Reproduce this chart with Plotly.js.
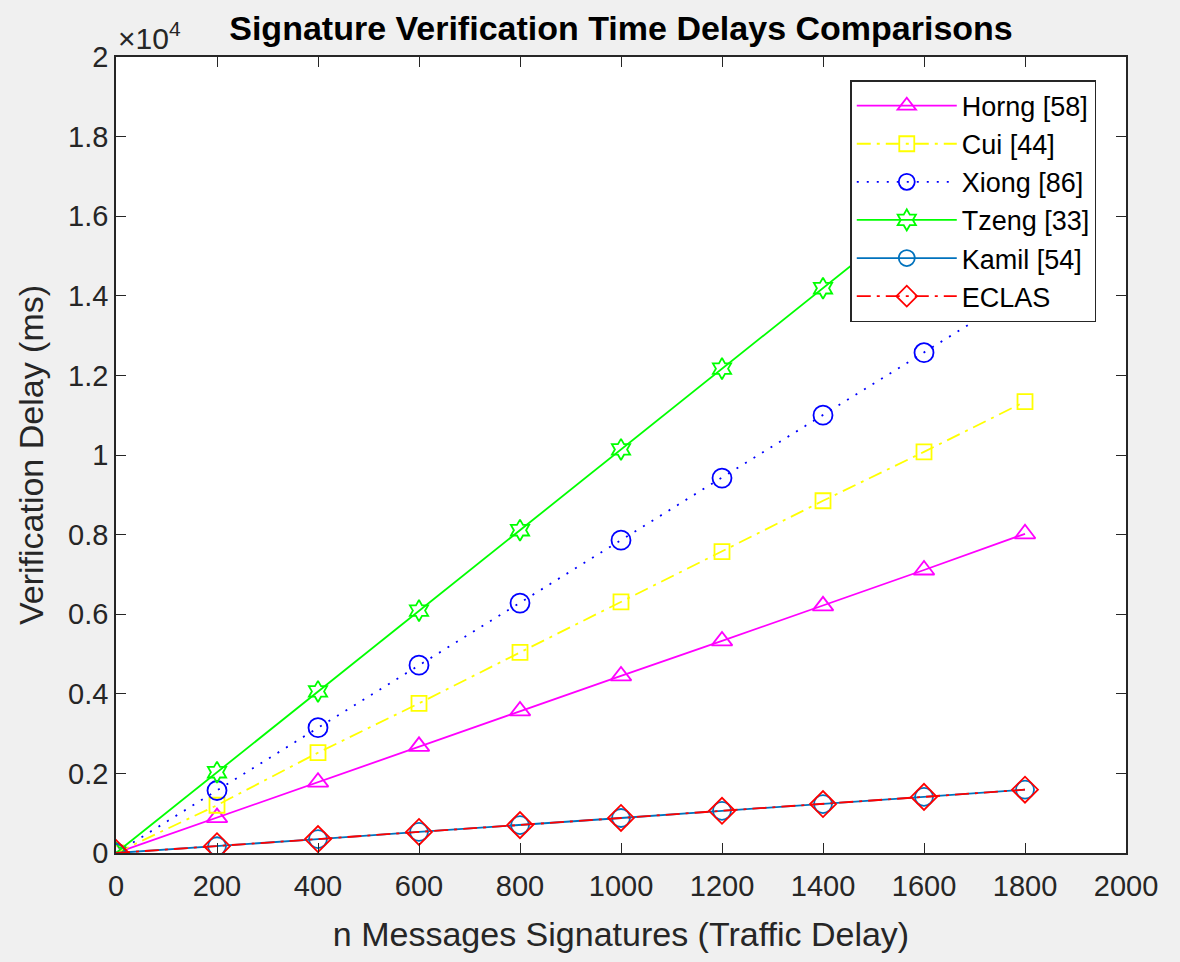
<!DOCTYPE html>
<html>
<head>
<meta charset="utf-8">
<script src="https://cdn.plot.ly/plotly-3.0.1.min.js"></script>
<style>html,body{margin:0;padding:0;background:#f0f0f0;}#chart{width:1180px;height:962px;}</style>
</head>
<body>
<div id="chart"></div>
<script>
const messages = [0, 200, 400, 600, 800, 1000, 1200, 1400, 1600, 1800];
const horng = [0, 890, 1780, 2680, 3570, 4450, 5330, 6210, 7110, 8020];
const cui   = [0, 1200, 2520, 3760, 5040, 6310, 7570, 8850, 10080, 11340];
const xiong = [0, 1570, 3150, 4720, 6280, 7860, 9420, 11000, 12570, 14150];
const tzeng = [0, 2030, 4060, 6090, 8110, 10140, 12170, 14190, 16220, 18250];
const kamil = [0, 170, 350, 530, 700, 880, 1060, 1230, 1410, 1590];
const eclas = [0, 170, 350, 530, 700, 880, 1060, 1230, 1410, 1590];

const yTickVals = [0, 2000, 4000, 6000, 8000, 10000, 12000, 14000, 16000, 18000, 20000];
const yTickText = ['0', '0.2', '0.4', '0.6', '0.8', '1', '1.2', '1.4', '1.6', '1.8', '2'];
const xTickVals = [0, 200, 400, 600, 800, 1000, 1200, 1400, 1600, 1800, 2000];

const FONT = 'Liberation Sans, Arial, Helvetica, sans-serif';
const TXT = '#262626';

function tr(name, y, color, dash, symbol, size, group) {
  return {
    x: messages, y: y, name: name, type: 'scatter', mode: 'lines+markers',
    legendgroup: group,
    line: {color: color, width: 1.8, dash: dash},
    marker: {symbol: symbol, size: size, color: color, line: {color: color, width: 1.8}}
  };
}

const data = [
  tr('Horng [58]', horng, '#FF00FF', 'solid', 'triangle-up-open', 18, 'g1'),
  tr('Cui [44]', cui, '#FFFF00', '14px,6px,3px,6px', 'square-open', 15, 'g2'),
  tr('Xiong [86]', xiong, '#0000FF', '2px,8px', 'circle-open', 19, 'g3'),
  tr('Tzeng [33]', tzeng, '#00FF00', 'solid', 'hexagram-open', 16, 'g4'),
  tr('Kamil [54]', kamil, '#0072BD', 'solid', 'circle-open', 18, 'g5'),
  tr('ECLAS', eclas, '#FF0000', '14px,6px,3px,6px', 'diamond-open', 20, 'g6')
];

const layout = {
  width: 1180, height: 962,
  paper_bgcolor: '#f0f0f0', plot_bgcolor: '#ffffff',
  margin: {l: 115.5, r: 54, t: 57, b: 109},
  font: {family: FONT, color: TXT, size: 28},
  title: {text: '<b>Signature Verification Time Delays Comparisons</b>',
          font: {family: FONT, size: 34, color: '#000'},
          x: 0.5, xref: 'paper', y: 0.971, yref: 'container', yanchor: 'middle'},
  xaxis: {
    range: [0, 2000], tickvals: xTickVals, ticktext: xTickVals.map(String),
    ticks: 'inside', ticklen: 10, tickcolor: TXT, tickwidth: 1.3,
    showline: true, linecolor: TXT, linewidth: 1.6, mirror: 'ticks',
    showgrid: false, zeroline: false, ticklabelstandoff: 6,
    tickfont: {size: 29, color: TXT},
    title: {text: 'n Messages Signatures (Traffic Delay)', font: {size: 34, color: TXT}, standoff: 22}
  },
  yaxis: {
    range: [0, 20000], tickvals: yTickVals, ticktext: yTickText,
    ticks: 'inside', ticklen: 10, tickcolor: TXT, tickwidth: 1.3,
    showline: true, linecolor: TXT, linewidth: 1.6, mirror: 'ticks',
    showgrid: false, zeroline: false,
    tickfont: {size: 29, color: TXT},
    title: {text: 'Verification Delay (ms)', font: {size: 34, color: TXT}, standoff: 14}
  },
  legend: {
    x: 0.727, y: 0.971, xanchor: 'left', yanchor: 'top',
    bgcolor: '#ffffff', bordercolor: TXT, borderwidth: 1.5,
    font: {size: 27, color: '#000'},
    tracegroupgap: 0, itemwidth: 100
  },
  annotations: [{
    text: '×10<sup>4</sup>', xref: 'paper', yref: 'paper', x: 0, y: 1,
    xanchor: 'left', yanchor: 'bottom', showarrow: false, yshift: 0,
    font: {size: 30, color: TXT}
  }]
};

Plotly.newPlot('chart', data, layout, {displayModeBar: false});
</script>
</body>
</html>
